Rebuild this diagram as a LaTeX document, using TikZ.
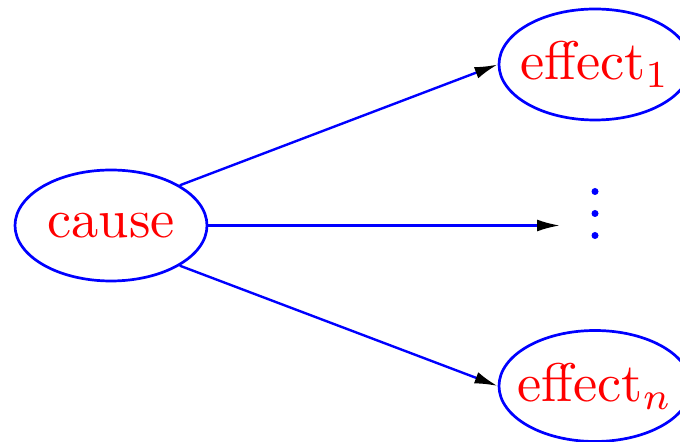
\RequirePackage{fix-cm}
\documentclass[tikz,border=0pt]{standalone}
\usepackage{graphicx}
\usetikzlibrary{shapes.geometric,arrows.meta}
% label at 10pt, scaled up, with no width so the ellipse keeps its set size
\newcommand{\biglabel}[1]{\makebox[0pt]{\scalebox{2.72}{#1}}}
\begin{document}
\begin{tikzpicture}[x=0.5pt,y=-0.5pt,
  event/.style={ellipse,draw=blue,line width=1.35pt,text=red,
    minimum width=96pt,minimum height=55.5pt,inner sep=0pt},
  link/.style={draw=blue,line width=1.2pt,
    -{Latex[black,length=11.5pt,width=6pt]}},
  dot/.style={circle,fill=blue,inner sep=0pt,minimum size=3.5pt}]
  \useasboundingbox (0,0) rectangle (680,442);
  \node[event] (cause) at (111,225.5) {\biglabel{cause}};
  \node[event] (e1) at (595,64.5) {\biglabel{effect$_1$}};
  \node[event] (en) at (595,386) {\biglabel{effect$_n$}};
  \node[dot] (d1) at (595,191.5) {};
  \node[dot] (d2) at (595,213.5) {};
  \node[dot] (d3) at (595,235.5) {};
  \coordinate (mid) at (560,225.5);
  \draw[link] (cause.north east) -- (e1.west);
  \draw[link] (cause.east) -- (mid);
  \draw[link] (cause.south east) -- (en.west);
\end{tikzpicture}
\end{document}
